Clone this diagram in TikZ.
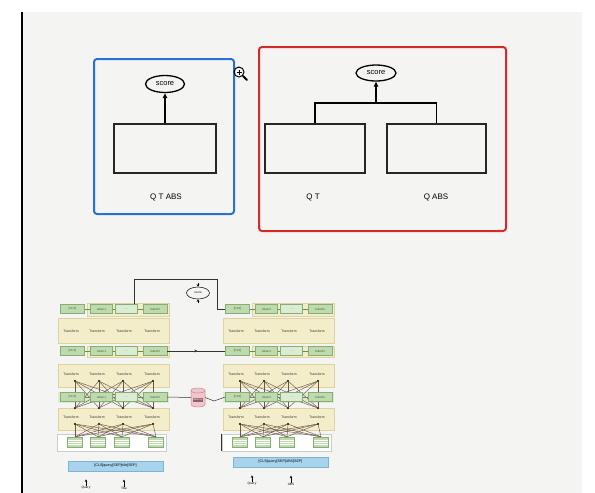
\documentclass[tikz,border=0pt]{standalone}
\usepackage{fontspec}
\setmainfont{Liberation Sans}
\usetikzlibrary{shapes.geometric,arrows.meta,decorations.markings,calc}
\definecolor{pagebg}{HTML}{F4F4F2}
\definecolor{blueframe}{HTML}{2A6FD6}
\definecolor{redframe}{HTML}{D42A2A}
\definecolor{grpfill}{HTML}{F3EDC9}
\definecolor{grpdraw}{HTML}{DDD3A0}
\definecolor{tokfill}{HTML}{BFDAAF}
\definecolor{tokmid}{HTML}{DCEBD3}
\definecolor{tokdraw}{HTML}{86AD72}
\definecolor{toktext}{HTML}{3D5F33}
\definecolor{webcol}{HTML}{6E5548}
\definecolor{barfill}{HTML}{A7D3EC}
\definecolor{bardraw}{HTML}{7DB4D6}
\definecolor{cylfill}{HTML}{F2C4CC}
\definecolor{cyldraw}{HTML}{C98A94}
\begin{document}
\begin{tikzpicture}[x=1pt,y=-1pt,
  frame/.style={line width=2pt,rounded corners=3pt},
  enc/.style={draw=black!85,line width=1.3pt,inner sep=0pt},
  scorebox/.style={ellipse,draw=black,line width=1.3pt,minimum width=39pt,minimum height=17pt,inner sep=0pt,font=\fontsize{7.5}{8}\selectfont},
  lab/.style={font=\fontsize{8}{9}\selectfont,inner sep=0pt},
  grp/.style={fill=grpfill,draw=grpdraw,line width=.4pt},
  tok/.style={draw=tokdraw,fill=tokfill,line width=.4pt,minimum height=9pt,inner sep=0pt,text=toktext,font=\fontsize{3}{3}\selectfont},
  tokline/.style={draw=tokdraw!80!black,line width=.4pt},
  tfm/.style={font=\fontsize{3.4}{4}\selectfont,text=black!80,inner sep=0pt},
  dotn/.style={circle,fill=black,inner sep=0pt,minimum size=2.4pt},
  web/.style={draw=webcol,line width=.45pt},
  inbox/.style={draw=black!20,fill=white,line width=.4pt,minimum width=109pt,minimum height=17pt,inner sep=0pt},
  inp/.style={draw=tokdraw,fill=tokfill,line width=.4pt,minimum width=15pt,minimum height=10pt,inner sep=0pt,
    path picture={\foreach \k in {0.3,0.5,0.7}{\draw[white,line width=.3pt] ($(path picture bounding box.south west)!\k!(path picture bounding box.north west)$) -- ($(path picture bounding box.south east)!\k!(path picture bounding box.north east)$);}}},
  bar/.style={draw=bardraw,fill=barfill,line width=.5pt,minimum width=95pt,minimum height=10pt,inner sep=0pt,font=\fontsize{3.6}{4}\selectfont},
  small/.style={font=\fontsize{3.2}{4}\selectfont,inner sep=0pt},
  thin/.style={draw=black!80,line width=.5pt},
  tinyarrow/.style={-{Stealth[length=2.5pt,width=2.5pt]},line width=.4pt}
]
\useasboundingbox (0,0) rectangle (595,493);
% page
\fill[pagebg] (22,12) rectangle (582,493);
\draw[black,line width=1.5pt] (22,12) -- (22,493);

% ---------- top part ----------
\draw[frame,draw=blueframe] (94,59) rectangle (234,214);
\draw[frame,draw=redframe] (259,47) rectangle (506,231);

\node[enc,minimum width=102pt,minimum height=49pt] (lenc) at (165,148.5) {};
\node[scorebox] (lscore) at (165,84) {score};
\draw[line width=1.3pt,-{Triangle[length=5pt,width=4.5pt]}] (lenc.north) -- (lscore.south);
\node[lab] (lqtabs) at (166,197) {Q T ABS};

\node[enc,minimum width=100pt,minimum height=49pt] (qt) at (315,148.5) {};
\node[enc,minimum width=99pt,minimum height=49pt] (qa) at (436.5,148.5) {};
\node[scorebox,minimum width=40pt,minimum height=16pt] (rscore) at (376,73) {score};
\coordinate (jn) at (376,103);
\draw[line width=1.3pt] (qt.north) |- (jn) -| (qa.north);
\draw[line width=1.3pt,-{Triangle[length=5pt,width=4.5pt]}] (jn) -- (rscore.south);
\node[lab] (lqt) at (313,197) {Q T};
\node[lab] (lqa) at (436,197) {Q ABS};

% magnifier icon
\draw[line width=1pt] (239,72) circle (5);
\draw[line width=.8pt] (236.5,72) -- (241.5,72) (239,69.5) -- (239,74.5);
\draw[line width=1.8pt,line cap=round] (243,76) -- (247,80);

% ---------- lower part: two towers ----------
\foreach \tw/\dx in {L/0,R/165}{
\begin{scope}[xshift=\dx]
  % groups
  \draw[grp] (87,303) rectangle (169,316);
  \draw[grp] (58,318) rectangle (169,343);
  \draw[grp] (87,346) rectangle (169,357);
  \draw[grp] (58,364) rectangle (169,387);
  \fill[tokmid] (58,392) rectangle (169,403);
  \draw[grp] (58,408) rectangle (169,430);
  \node[inbox] (\tw-box) at (111.5,442.5) {};
  % transform labels
  \foreach \i/\xx in {1/71,2/97,3/124,4/152}{
    \node[tfm] (\tw-ta\i) at (\xx,331) {Transform};
    \node[tfm] (\tw-tb\i) at (\xx,374) {Transform};
    \node[tfm] (\tw-tc\i) at (\xx,417) {Transform};
  }
  % dots and inputs
  \foreach \i/\xx/\xi in {1/75/75,2/99/98,3/123/122,4/153/156}{
    \node[dotn] (\tw-u\i) at (\xx,381) {};
    \node[dotn] (\tw-p\i) at (\xx,408) {};
    \node[dotn] (\tw-q\i) at (\xx,424) {};
    \node[inp] (\tw-in\i) at (\xi,442) {};
  }
  % full connections
  \foreach \i in {1,...,4}{
    \foreach \j in {1,...,4}{
      \draw[web] (\tw-u\i) -- (\tw-p\j);
      \draw[web] (\tw-q\i) -- (\tw-in\j.north);
    }
  }
  % token rows
  \foreach \r/\yy in {1/309,2/351,3/397}{
    \node[tok,minimum width=24pt] (\tw-c\r) at (72.5,\yy) {[CLS]};
    \node[tok,minimum width=22pt] (\tw-a\r) at (101.5,\yy) {token1};
    \node[tok,minimum width=22pt,fill=tokmid] (\tw-m\r) at (126.5,\yy) {...};
    \node[tok,minimum width=24pt] (\tw-n\r) at (155,\yy) {tokenN};
    \draw[tokline] (\tw-c\r) -- (\tw-a\r);
    \draw[tokline] (\tw-a\r) -- (\tw-m\r);
    \draw[tokline] (\tw-m\r) -- (\tw-n\r);
  }
\end{scope}
}
\draw[black!80,line width=.8pt] (R-box.north west) -- (R-box.south west);

% connections between towers
\node[ellipse,draw=black,line width=.5pt,minimum width=23pt,minimum height=12pt,inner sep=0pt,font=\fontsize{3}{3}\selectfont] (sc) at (198,293) {score};
\draw[tinyarrow] (sc.north) ++(0,-4) coordinate (sca) (sca) -- (sc.north);
\draw[tinyarrow] (sc.south) ++(0,4) coordinate (scb) (scb) -- (sc.south);

\coordinate (ta) at ([xshift=-3pt]L-m1.north east);
\coordinate (tc) at (217,279);
\draw[thin] (ta) |- (tc) |- (R-c1.west);

\draw[thin,postaction={decorate},decoration={markings,mark=at position 0.52 with {\arrow{Stealth[length=3pt,width=3pt]}}}] (L-n2.east) -- (R-c2.west);

% memory cylinder
\node[minimum width=14pt,minimum height=19pt,inner sep=0pt] (mem) at (198,397.5) {};
\filldraw[fill=cylfill,draw=cyldraw,line width=.5pt] (191,390.5) -- (191,404.5)
  arc[start angle=180,end angle=0,x radius=7,y radius=2.5] -- (205,390.5)
  arc[start angle=0,end angle=-180,x radius=7,y radius=2.5] -- cycle;
\draw[cyldraw,line width=.5pt] (191,390.5) arc[start angle=180,end angle=0,x radius=7,y radius=2.5];
\node[fill=cyldraw!70!black,text=white,inner sep=0.6pt,font=\fontsize{2.6}{3}\selectfont] (memlab) at (198,400) {Memory};
\draw[thin] (L-n3.east) -- (mem.west);
\coordinate (mb) at (214,401);
\draw[thin] (mem.east) -- (mb) -- (R-c3.west);

% input bars
\node[bar] (lbar) at (115.5,466) {[CLS]query[SEP]title[SEP]};
\node[bar] (rbar) at (280.5,462) {[CLS]query[SEP]ABS[SEP]};
\node[small] (q1) at (86,488) {Query};
\node[small] (t1) at (124,488) {Title};
\node[small] (q2) at (252,484) {Query};
\node[small] (a2) at (291,484) {ABS};
\foreach \n in {q1,t1,q2,a2}{
  \draw[tinyarrow] (\n.north) -- ++(0,-7) coordinate (\n-tip);
}
\end{tikzpicture}
\end{document}
